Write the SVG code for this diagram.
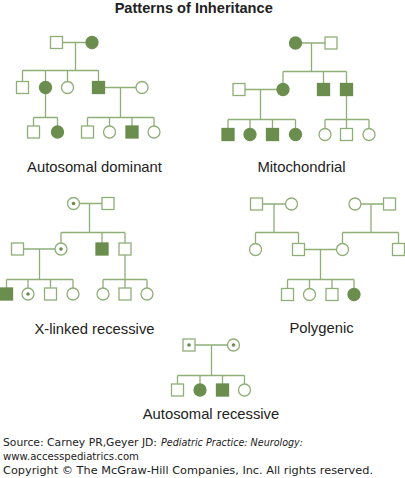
<svg xmlns="http://www.w3.org/2000/svg" width="405" height="478" viewBox="0 0 405 478">
<style>
.ln{stroke:#8fae78;stroke-width:1.3;fill:none}
.o{fill:#fff;stroke:#8fae78;stroke-width:1.3}
.f{fill:#6b8e4e;stroke:#6b8e4e;stroke-width:1.3}
.d{fill:#6b8e4e}
.lbl{font-family:"Liberation Sans",Arial,sans-serif;font-size:14.8px;fill:#222;text-anchor:middle}
.ttl{font-family:"Liberation Sans",Arial,sans-serif;font-size:14.6px;font-weight:bold;fill:#222;text-anchor:middle}
.ft{font-family:"DejaVu Sans",Verdana,sans-serif;font-size:9.6px;fill:#222}
</style>
<rect width="405" height="478" fill="#fff"/>
<text class="ttl" x="193.7" y="12.7">Patterns of Inheritance</text>

<g id="connectors">
<!-- Autosomal dominant -->
<path class="ln" d="M56.5 42.5H92M75.5 42.5V70.5M22.5 70.5H98.5M22.5 70.5V87.5M45.5 70.5V87.5M67.5 70.5V87.5M98.5 70.5V87.5M98.5 87.5H142M120.5 87.5V117.5M87.5 117.5H154M87.5 117.5V132M109.5 117.5V132M132 117.5V132M154 117.5V132M45.5 87.5V117.5M33.5 117.5H57.5M33.5 117.5V132M57.5 117.5V132"/>
<!-- Mitochondrial -->
<path class="ln" d="M295.5 43H331M311.5 43V71.5M283 71.5H346.5M283 71.5V89.5M323.5 71.5V89.5M346.5 71.5V89.5M239 89.5H283M260.5 89.5V119.5M228 119.5H295.5M228 119.5V134.5M250 119.5V134.5M272.5 119.5V134.5M295.5 119.5V134.5M346.5 89.5V119.5M325 119.5H369M325 119.5V134.5M346.5 119.5V134.5M369 119.5V134.5"/>
<!-- X-linked recessive -->
<path class="ln" d="M73.5 203.5H108M89.5 203.5V232.5M61 232.5H125M61 232.5V249M102 232.5V249M125 232.5V249M17.5 249H61M39.5 249V279.5M6.5 279.5H73M6.5 279.5V294M28 279.5V294M50.5 279.5V294M73 279.5V294M125 249V279.5M103 279.5H147M103 279.5V294M125 279.5V294M147 279.5V294"/>
<!-- Polygenic -->
<path class="ln" d="M256.5 204H291.5M274 204V232.5M255.5 232.5H298.5M255.5 232.5V249.5M298.5 232.5V249.5M355 204H389.5M371 204V232.5M342.5 232.5H398.5M342.5 232.5V249.5M398.5 232.5V249.5M298.5 249.5H342.5M320.5 249.5V279.5M287.5 279.5H354M287.5 279.5V294.5M309.5 279.5V294.5M332 279.5V294.5M354 279.5V294.5"/>
<!-- Autosomal recessive -->
<path class="ln" d="M189 345H233.5M211.5 345V375.5M177.5 375.5H244.5M177.5 375.5V390M200 375.5V390M222.5 375.5V390M244.5 375.5V390"/>
</g>

<g id="autosomal-dominant">
<rect class="o" x="50.5" y="36.5" width="12" height="12"/>
<circle class="f" cx="92" cy="42.5" r="6"/>
<rect class="o" x="16.5" y="81.5" width="12" height="12"/>
<circle class="f" cx="45.5" cy="87.5" r="6"/>
<circle class="o" cx="67.5" cy="87.5" r="6"/>
<rect class="f" x="92.5" y="81.5" width="12" height="12"/>
<circle class="o" cx="142" cy="87.5" r="6"/>
<rect class="o" x="27.5" y="126" width="12" height="12"/>
<circle class="f" cx="57.5" cy="132" r="6"/>
<rect class="o" x="81.5" y="126" width="12" height="12"/>
<circle class="o" cx="109.5" cy="132" r="6"/>
<rect class="f" x="126" y="126" width="12" height="12"/>
<circle class="o" cx="154" cy="132" r="6"/>
<text class="lbl" x="94.5" y="171.7">Autosomal dominant</text>
</g>

<g id="mitochondrial">
<circle class="f" cx="295.5" cy="43" r="6"/>
<rect class="o" x="325" y="37" width="12" height="12"/>
<rect class="o" x="233" y="83.5" width="12" height="12"/>
<circle class="f" cx="283" cy="89.5" r="6"/>
<rect class="f" x="317.5" y="83.5" width="12" height="12"/>
<rect class="f" x="340.5" y="83.5" width="12" height="12"/>
<rect class="f" x="222" y="128.5" width="12" height="12"/>
<circle class="f" cx="250" cy="134.5" r="6"/>
<rect class="f" x="266.5" y="128.5" width="12" height="12"/>
<circle class="f" cx="295.5" cy="134.5" r="6"/>
<circle class="o" cx="325" cy="134.5" r="6"/>
<rect class="o" x="340.5" y="128.5" width="12" height="12"/>
<circle class="o" cx="369" cy="134.5" r="6"/>
<text class="lbl" x="301.5" y="172">Mitochondrial</text>
</g>

<g id="x-linked-recessive">
<circle class="o" cx="73.5" cy="203.5" r="6"/><circle class="d" cx="73.5" cy="203.5" r="1.8"/>
<rect class="o" x="102" y="197.5" width="12" height="12"/>
<rect class="o" x="11.5" y="243" width="12" height="12"/>
<circle class="o" cx="61" cy="249" r="6"/><circle class="d" cx="61" cy="249" r="1.8"/>
<rect class="f" x="96" y="243" width="12" height="12"/>
<rect class="o" x="119" y="243" width="12" height="12"/>
<rect class="f" x="0.5" y="288" width="12" height="12"/>
<circle class="o" cx="28" cy="294" r="6"/><circle class="d" cx="28" cy="294" r="1.8"/>
<rect class="o" x="44.5" y="288" width="12" height="12"/>
<circle class="o" cx="73" cy="294" r="6"/>
<circle class="o" cx="103" cy="294" r="6"/>
<rect class="o" x="119" y="288" width="12" height="12"/>
<circle class="o" cx="147" cy="294" r="6"/>
<text class="lbl" x="94.5" y="333.5">X-linked recessive</text>
</g>

<g id="polygenic">
<rect class="o" x="250.5" y="198" width="12" height="12"/>
<circle class="o" cx="291.5" cy="204" r="6"/>
<circle class="o" cx="355" cy="204" r="6"/>
<rect class="o" x="383.5" y="198" width="12" height="12"/>
<circle class="o" cx="255.5" cy="249.5" r="6"/>
<rect class="o" x="292.5" y="243.5" width="12" height="12"/>
<circle class="o" cx="342.5" cy="249.5" r="6"/>
<rect class="o" x="392.5" y="243.5" width="12" height="12"/>
<rect class="o" x="281.5" y="288.5" width="12" height="12"/>
<circle class="o" cx="309.5" cy="294.5" r="6"/>
<rect class="o" x="326" y="288.5" width="12" height="12"/>
<circle class="f" cx="354" cy="294.5" r="6"/>
<text class="lbl" x="321.5" y="333.3">Polygenic</text>
</g>

<g id="autosomal-recessive">
<rect class="o" x="183" y="339" width="12" height="12"/><circle class="d" cx="189" cy="345" r="1.8"/>
<circle class="o" cx="233.5" cy="345" r="6"/><circle class="d" cx="233.5" cy="345" r="1.8"/>
<rect class="o" x="171.5" y="384" width="12" height="12"/>
<circle class="f" cx="200" cy="390" r="6"/>
<rect class="f" x="216.5" y="384" width="12" height="12"/>
<circle class="o" cx="244.5" cy="390" r="6"/>
<text class="lbl" x="211" y="418.5">Autosomal recessive</text>
</g>

<g id="footer">
<text class="ft" x="3" y="445.5" textLength="154" lengthAdjust="spacingAndGlyphs">Source: Carney PR,Geyer JD:</text>
<text class="ft" x="161" y="445.5" font-style="italic" textLength="142" lengthAdjust="spacingAndGlyphs">Pediatric Practice: Neurology:</text>
<text class="ft" x="3" y="459.5" textLength="136" lengthAdjust="spacingAndGlyphs">www.accesspediatrics.com</text>
<text class="ft" x="3" y="473.5" textLength="370" lengthAdjust="spacingAndGlyphs">Copyright © The McGraw-Hill Companies, Inc. All rights reserved.</text>
</g>
</svg>
